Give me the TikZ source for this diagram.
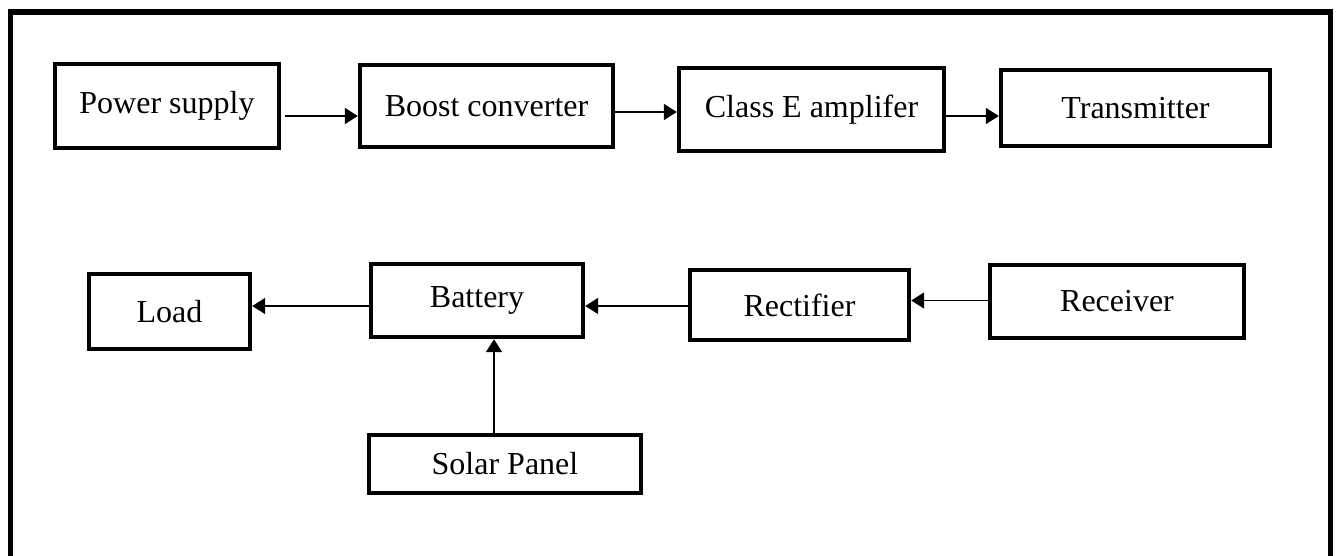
\documentclass[tikz,border=0pt]{standalone}
\usepackage{fontspec}
\setmainfont{Liberation Serif}
\usetikzlibrary{arrows.meta}

\begin{document}
\begin{tikzpicture}[x=0.5pt,y=-0.5pt,
  blk/.style={draw, line width=2.2pt, inner sep=0pt, font=\fontsize{16}{19}\selectfont},
  conn/.style={line width=0.9pt, -{Triangle[length=6.5pt,width=8pt]}}]
\useasboundingbox (0,0) rectangle (1338,556);
\clip (0,0) rectangle (1338,556);
\draw[line width=2.6pt] (10.7,590) -- (10.7,12) -- (1330.5,12) -- (1330.5,590);
% blocks: name/x/y/width/height/text
\foreach \n/\x/\y/\w/\h/\t in {ps/167/106/112pt/42pt/Power supply, bc/486.5/106/126.5pt/41pt/Boost converter,
  ce/811.5/109.5/132.5pt/41.5pt/Class E amplifer, tx/1135.5/108/134.5pt/38pt/Transmitter,
  ld/169.5/311.5/80.5pt/37.5pt/Load, bt/477/300.5/106pt/36.5pt/Battery,
  rt/799.5/305/109.5pt/35pt/Rectifier, rc/1117/301.5/127pt/36.5pt/Receiver,
  sp/505/464/136pt/29pt/Solar Panel}
  { \node[blk, minimum width=\w, minimum height=\h] (\n) at (\x,\y) {\t}; }
% top chain
\draw[conn, shorten <=2pt] ([yshift=-5pt]ps.east) -- ([yshift=-5pt]ps.east -| bc.west);
\draw[conn] ([yshift=-3pt]bc.east) -- ([yshift=-3pt]bc.east -| ce.west);
\draw[conn] ([yshift=-3.25pt]ce.east) -- ([yshift=-3.25pt]ce.east -| tx.west);
% bottom chain
\draw[conn] ([yshift=0.5pt]rc.west) -- ([yshift=0.5pt]rc.west -| rt.east);
\draw[conn] ([yshift=-0.5pt]rt.west) -- ([yshift=-0.5pt]rt.west -| bt.east);
\draw[conn] ([yshift=-2.75pt]bt.west) -- ([yshift=-2.75pt]bt.west -| ld.east);
\draw[conn] ([xshift=-5.5pt]sp.north) -- ([xshift=-5.5pt]sp.north |- bt.south);
\end{tikzpicture}
\end{document}
